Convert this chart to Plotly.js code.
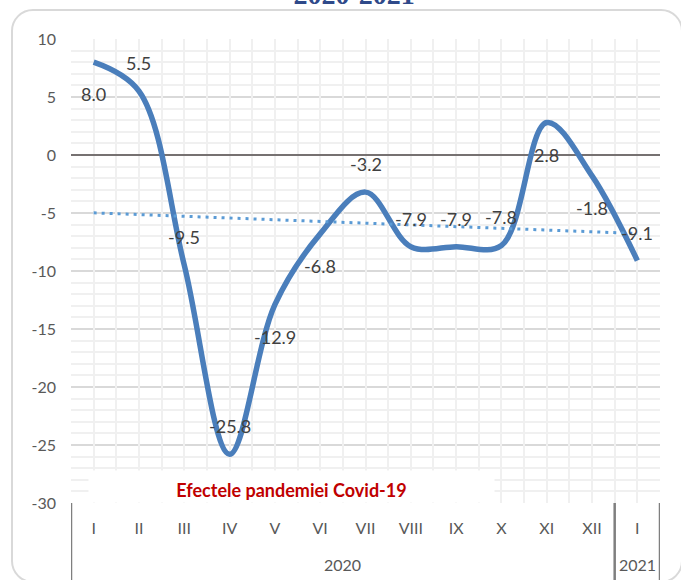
<!DOCTYPE html>
<html><head><meta charset="utf-8">
<script src="https://cdn.plot.ly/plotly-3.0.1.min.js"></script>
<style>
html,body{margin:0;padding:0;background:#fff;}
#wrap{position:relative;width:681px;height:580px;overflow:hidden;}
#frame{position:absolute;left:11px;top:9px;width:672px;height:574px;box-sizing:border-box;border:2px solid #d9d9d9;border-radius:22px;}
#chart{position:absolute;left:0;top:0;width:681px;height:580px;}
</style></head><body>
<div id="wrap"><div id="frame"></div><div id="chart"></div></div>
<script>
const years = ['2020','2020','2020','2020','2020','2020','2020','2020','2020','2020','2020','2020','2021'];
const months = ['I','II','III','IV','V','VI','VII','VIII','IX','X','XI','XII','I'];
const values = [8.0, 5.5, -9.5, -25.8, -12.9, -6.8, -3.2, -7.9, -7.9, -7.8, 2.8, -1.8, -9.1];
const labelSide = ['below','above','above','above','below','below','above','above','above','above','below','below','above'];
const yTicks = [10, 5, 0, -5, -10, -15, -20, -25, -30];
const noteText = 'Efectele pandemiei Covid-19';
const titleText = '2020-2021';

const idx = values.map((v, i) => i);
const n = values.length;

// linear trendline (least squares over category index), as in the source chart
const mx = idx.reduce((a, b) => a + b, 0) / n;
const my = values.reduce((a, b) => a + b, 0) / n;
let sxy = 0, sxx = 0;
idx.forEach((x, i) => { sxy += (x - mx) * (values[i] - my); sxx += (x - mx) * (x - mx); });
const slope = sxy / sxx;
const intercept = my - slope * mx;
const trend = idx.map(x => intercept + slope * x);

// year groups (outer category level)
const yearGroups = [];
years.forEach((y, i) => {
  const last = yearGroups[yearGroups.length - 1];
  if (last && last.year === y) { last.end = i; } else { yearGroups.push({year: y, start: i, end: i}); }
});
const boundaries = [yearGroups[0].start - 0.5].concat(yearGroups.map(g => g.end + 0.5));

const FONT = 'Lato, "Open Sans", sans-serif';
const AXIS_BOTTOM_FRAC = 77 / 464; // label band height relative to plot height

const traces = [
  {
    x: idx, y: values, xaxis: 'x', yaxis: 'y',
    type: 'scatter', mode: 'lines',
    line: {shape: 'spline', smoothing: 1, color: '#4a7ebb', width: 5.5},
    hoverinfo: 'skip'
  },
  {
    x: idx, y: trend, xaxis: 'x2', yaxis: 'y',
    type: 'scatter', mode: 'lines',
    line: {color: '#5b9bd5', width: 3, dash: '3px,5px'},
    hoverinfo: 'skip'
  }
];

const labelAnn = values.map((v, i) => ({
  xref: 'x', yref: 'y', x: idx[i], y: v,
  text: v.toFixed(1), showarrow: false,
  yshift: labelSide[i] === 'above' ? 28 : -32,
  font: {family: FONT, size: 18, color: '#404040'}
}));

const yearAnn = yearGroups.map(g => ({
  xref: 'x', yref: 'paper', x: (g.start + g.end) / 2, y: -0.1336,
  yanchor: 'middle', text: g.year, showarrow: false,
  font: {family: FONT, size: 16, color: '#595959'}
}));

const noteAnn = {
  xref: 'paper', yref: 'paper', x: 0.3744, y: 0.0356,
  xanchor: 'center', yanchor: 'middle',
  width: 403, height: 29, bgcolor: '#ffffff', valign: 'bottom',
  text: noteText, showarrow: false,
  font: {family: FONT, size: 18, color: '#c00000', weight: 'bold'}
};

const dividerShapes = boundaries.map(b => ({
  type: 'line', xref: 'x', yref: 'paper',
  x0: b, x1: b, y0: 0, y1: -AXIS_BOTTOM_FRAC,
  line: {color: '#7f7f7f', width: 2.5}
}));

const layout = {
  width: 681, height: 580,
  margin: {l: 71, r: 21, t: 39, b: 77},
  paper_bgcolor: 'rgba(0,0,0,0)',
  plot_bgcolor: '#ffffff',
  showlegend: false,
  title: {
    text: titleText, xref: 'container', yref: 'container',
    x: 0.52, xanchor: 'center', y: 0.993, yanchor: 'bottom',
    font: {family: '"Liberation Serif", serif', size: 28, color: '#2f4a8a', weight: 'bold'}
  },
  xaxis: {
    range: [-0.5, 12.5], tickmode: 'array', tickvals: idx, ticktext: months,
    showgrid: false, zeroline: false, showline: false, ticks: '',
    ticklabelstandoff: 14,
    tickfont: {family: FONT, size: 16, color: '#595959'}
  },
  xaxis2: {
    overlaying: 'x', anchor: 'y', range: [-0.5, 12.5],
    tick0: -0.5, dtick: 0.5, showgrid: true, gridcolor: '#f0f0f0', gridwidth: 2,
    showticklabels: false, ticks: '', zeroline: false, showline: false
  },
  yaxis: {
    range: [-30, 10], tickmode: 'array', tickvals: yTicks, ticktext: yTicks.map(String),
    showgrid: true, gridcolor: '#d9d9d9', gridwidth: 2,
    minor: {tickmode: 'linear', tick0: 0, dtick: 1, showgrid: true, gridcolor: '#f0f0f0', gridwidth: 2},
    zeroline: true, zerolinecolor: '#767171', zerolinewidth: 2.5,
    showline: false, ticks: '', ticklabelstandoff: 14,
    tickfont: {family: FONT, size: 16, color: '#595959'}
  },
  shapes: dividerShapes,
  annotations: labelAnn.concat(yearAnn, [noteAnn])
};

Plotly.newPlot('chart', traces, layout, {staticPlot: true, displayModeBar: false});
</script>
</body></html>
